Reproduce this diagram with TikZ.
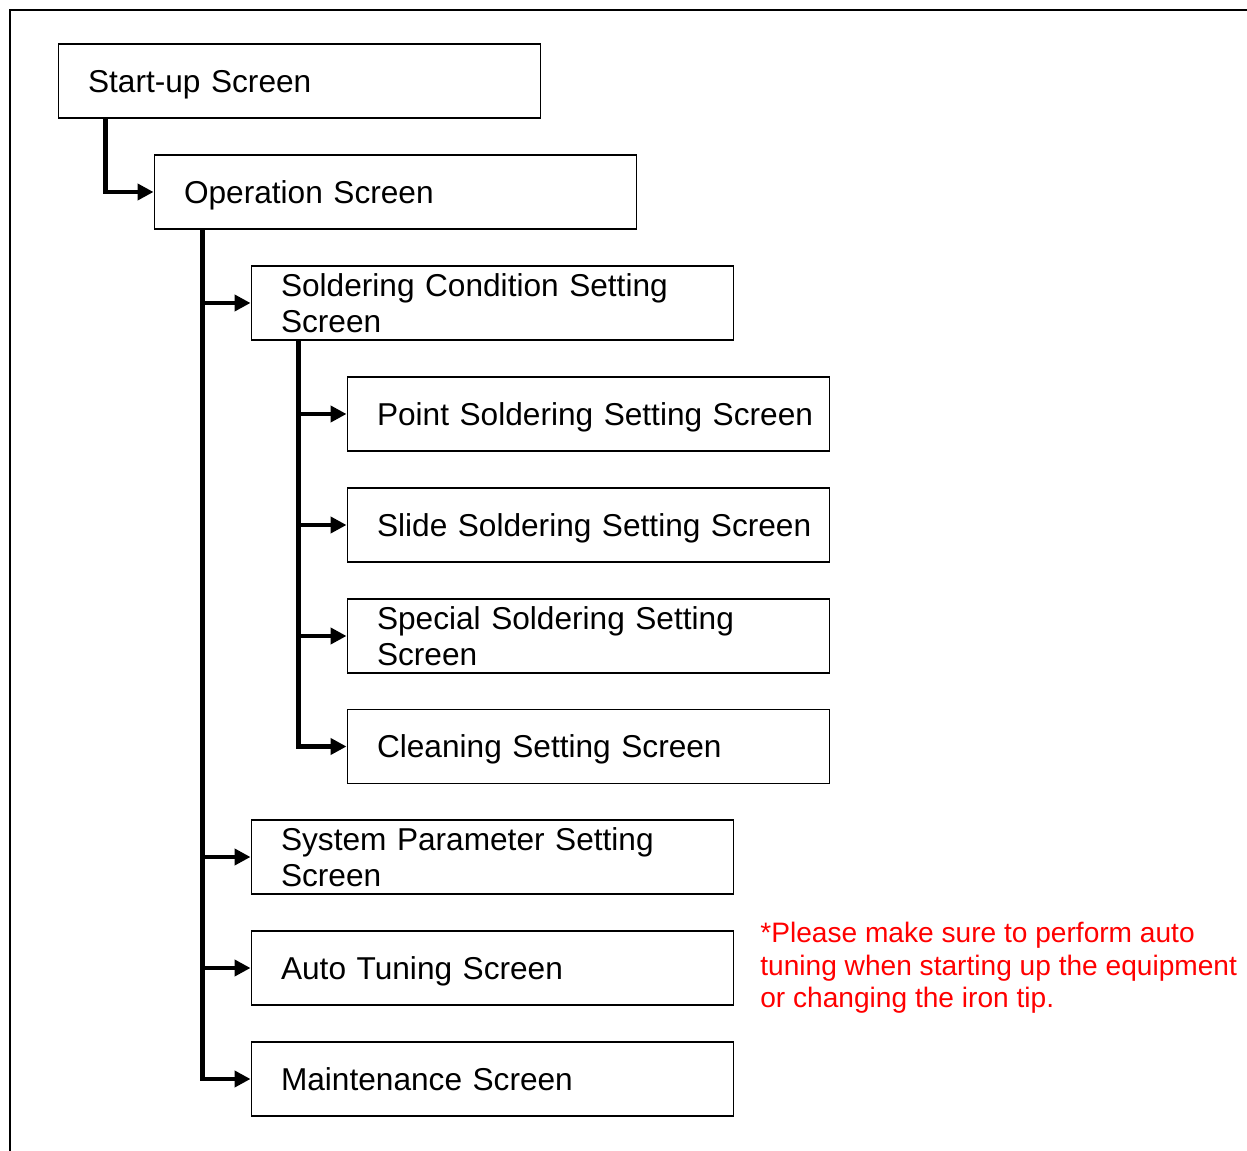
\documentclass[tikz,border=0pt]{standalone}
\usepackage{fontspec}
\setmainfont{Liberation Sans}
\usepackage{tikz}
\usetikzlibrary{positioning,arrows.meta}
\tikzset{}

\begin{document}
\begin{tikzpicture}[x=0.02cm,y=-0.02cm]
    \tikzset{
        scr node/.style={rectangle,draw,line width=0.6pt,minimum width=9.66cm,minimum height=1.48cm,
            text width=9.16cm,inner xsep=0.25cm,inner ysep=0,align=left,
            execute at begin node={\leftskip=0.35cm},font=\fontsize{18}{20.5}\selectfont},
        scr one/.style={scr node,text depth=0pt},
        scr edge/.style={line width=2.4pt,-{Triangle[length=0.32cm,width=0.32cm]},to path={|- (\tikztotarget)}}
    }
    \useasboundingbox (0,0) rectangle (1247,1151);
    \draw[line width=0.7pt] (10,10) rectangle (1262,1170);
    \node[scr one] (startup) at (299.5, 81.0) {Start-up Screen};
    \node[scr one] (oper) at (395.5, 192.0) {Operation Screen};
    \node[scr node] (cond) at (492.5, 303.0) {Soldering Condition Setting\\Screen};
    \node[scr one] (point) at (588.5, 414.0) {Point Soldering Setting Screen};
    \node[scr one] (slide) at (588.5, 525.0) {Slide Soldering Setting Screen};
    \node[scr node] (special) at (588.5, 636.0) {Special Soldering Setting\\Screen};
    \node[scr one] (clean) at (588.5, 746.5) {Cleaning Setting Screen};
    \node[scr node] (sysparam) at (492.5, 857.0) {System Parameter Setting\\Screen};
    \node[scr one] (autotune) at (492.5, 968.0) {Auto Tuning Screen};
    \node[scr one] (maint) at (492.5, 1079.0) {Maintenance Screen};
    \node[anchor=north west,inner sep=0,align=left,text=red,font=\fontsize{16}{18.4}\selectfont] (note) at (760, 922)
        {*Please make sure to perform auto\\tuning when starting up the equipment\\or changing the iron tip.};
    \path[draw]
        ([xshift=0.96cm]startup.south west) edge[scr edge] (oper.west)
        ([xshift=0.98cm]oper.south west) edge[scr edge] (cond.west)
        ([xshift=0.98cm]oper.south west) edge[scr edge] (sysparam.west)
        ([xshift=0.98cm]oper.south west) edge[scr edge] (autotune.west)
        ([xshift=0.98cm]oper.south west) edge[scr edge] (maint.west)
        ([xshift=0.96cm]cond.south west) edge[scr edge] (point.west)
        ([xshift=0.96cm]cond.south west) edge[scr edge] (slide.west)
        ([xshift=0.96cm]cond.south west) edge[scr edge] (special.west)
        ([xshift=0.96cm]cond.south west) edge[scr edge] (clean.west)
        ;
\end{tikzpicture}
\end{document}
